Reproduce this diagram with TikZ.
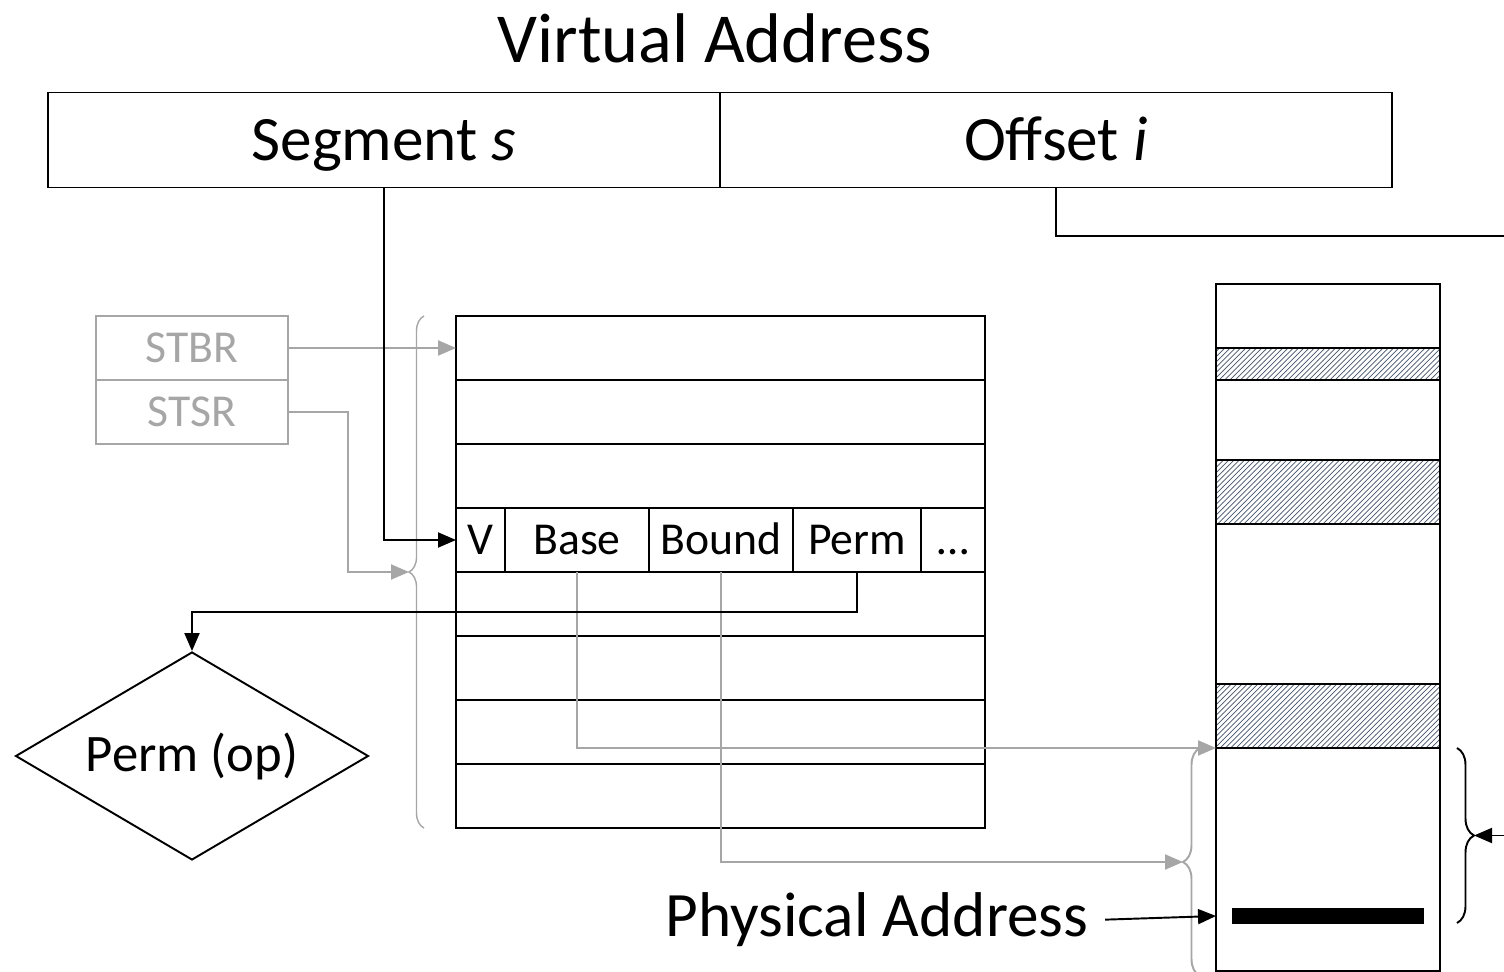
\documentclass[tikz,border=0pt]{standalone}
\usepackage{fontspec}
\setmainfont{Carlito}
\usetikzlibrary{positioning, arrows.meta, shapes.geometric, patterns, decorations.pathreplacing}
\definecolor{regray}{HTML}{A6A6A6}
\definecolor{hatch}{HTML}{44546A}
\tikzset{
  box/.style={draw, line width=1.1pt, outer sep=0pt, inner sep=0pt},
  field/.style={box, minimum width=13.44cm, minimum height=1.9cm, text height=30pt, text depth=7pt, font=\fontsize{36}{42}\selectfont},
  row/.style={box, minimum width=10.58cm, minimum height=1.28cm},
  cell/.style={box, minimum height=1.28cm, text height=22pt, text depth=5pt, font=\fontsize{26}{30}\selectfont},
  reg/.style={draw=regray, line width=1.1pt, text=regray, outer sep=0pt, inner sep=0pt, minimum width=3.84cm, minimum height=1.28cm, text height=22pt, text depth=5pt, font=\fontsize{26}{30}\selectfont},
  band/.style={box, pattern=north east lines, pattern color=hatch, minimum width=4.48cm},
  blk/.style={line width=1.1pt, -{Triangle[length=0.36cm,width=0.3cm]}},
  gry/.style={blk, draw=regray},
  curly/.style={decorate, decoration={brace, amplitude=#1}},
}
\begin{document}
\begin{tikzpicture}[x=0.02cm, y=-0.02cm]
\useasboundingbox (0,0) rectangle (1504,972);

\node[font=\fontsize{40}{48}\selectfont] (title) at (715,38) {Virtual Address};
\node[field] (seg) at (384,140) {Segment \textit{s}};
\node[field] (off) at (1056,140) {Of{}fset \textit{i}};

\node[reg] (stbr) at (192,348) {STBR};
\node[reg, below=0pt of stbr] (stsr) {STSR};

\foreach \i in {0,1,2,4,5,6,7}
  \node[row] (row\i) at (720.5,{348+64*\i}) {};
\node[cell, minimum width=0.98cm, anchor=west] (cv) at (456,540) {V};
\node[cell, minimum width=2.88cm, right=0pt of cv] (cbase) {Base};
\node[cell, minimum width=2.88cm, right=0pt of cbase] (cbound) {Bound};
\node[cell, minimum width=2.56cm, right=0pt of cbound] (cperm) {Perm};
\node[cell, minimum width=1.28cm, right=0pt of cperm] (cdots) {…};

\node[draw, diamond, aspect=1.7, minimum width=7.06cm, minimum height=4.16cm, inner sep=0pt, line width=1.1pt, font=\fontsize{30}{36}\selectfont] (perm) at (192,756) {Perm (op)};

\node[box, minimum width=4.48cm, minimum height=13.74cm] (mem) at (1328,627.5) {};
\node[band, minimum height=0.64cm] (band1) at (1328,364) {};
\node[band, minimum height=1.28cm] (band2) at (1328,492) {};
\node[band, minimum height=1.28cm] (band3) at (1328,716) {};
\node[fill, inner sep=0pt, minimum width=3.84cm, minimum height=0.32cm] (bar) at (1328,916) {};

\node[font=\fontsize{36}{42}\selectfont] (pa) at (877,920) {Physical Address};

\draw[regray, line width=0.8pt, curly=0.3cm] (424,828) -- (424,316);
\coordinate (lbt) at (409,572);
\draw[regray, line width=1.1pt, curly=0.34cm] (1200,976) -- (1200,748);
\coordinate (mbt) at (1183,862);
\draw[line width=1.1pt, curly=0.34cm] (1457,748) -- (1457,923);
\coordinate (rbt) at (1474,835.5);
\coordinate (vaout) at (1504,236);
\coordinate (pain) at (1504,835.5);

\draw[gry] (stbr.east) -- (row0.west);
\draw[gry] (stsr.east) -- ++(60,0) |- (lbt);
\draw[gry] (cbase.south) |- (mem.west |- band3.south);
\draw[gry] (cbound.south) |- (mbt);

\draw[blk] (seg.south) |- (cv.west);
\draw[line width=1.1pt] (off.south) |- (vaout);
\draw[blk] (pain) -- (rbt);
\draw[blk] (cperm.south) -- ++(0,40) -| (perm.north);
\draw[blk, shorten <=6pt] (pa.east) -- (mem.west |- bar.west);
\end{tikzpicture}
\end{document}
